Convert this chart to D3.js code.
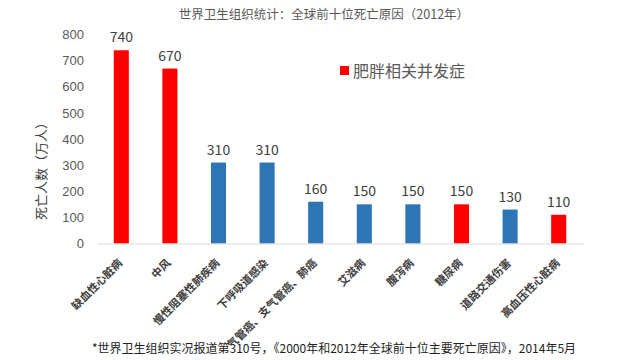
<!DOCTYPE html>
<html><head><meta charset="utf-8">
<script src="https://cdn.jsdelivr.net/npm/d3@7"></script>
<style>
body{margin:0;background:#fff;}
svg{display:block;font-family:"Noto Sans CJK SC","Noto Sans",sans-serif;}
</style></head>
<body><svg id="c" width="640" height="360"></svg>
<script>
const categories = ["缺血性心脏病","中风","慢性阻塞性肺疾病","下呼吸道感染","气管癌、支气管癌、肺癌","艾滋病","腹泻病","糖尿病","道路交通伤害","高血压性心脏病"];
const deaths = [740,670,310,310,160,150,150,150,130,110];
const obesityRelated = [true,true,false,false,false,false,false,true,false,true];
const yTicks = [0,100,200,300,400,500,600,700,800];
const titleText = "世界卫生组织统计：全球前十位死亡原因（2012年）";
const yTitle = "死亡人数（万人）";
const legendText = "肥胖相关并发症";
const footnote = "*世界卫生组织实况报道第310号，《2000年和2012年全球前十位主要死亡原因》，2014年5月";

const svg = d3.select("#c");
const x = d3.scaleBand().domain(categories).range([97,583]).paddingInner(0.69).paddingOuter(0.345);
const y = d3.scaleLinear().domain([0,800]).range([243.5,34.6]);
const RED = "#ff0000", BLUE = "#2e75b6";

svg.append("text").attr("x",324).attr("y",19).attr("text-anchor","middle")
  .attr("font-size",12.5).attr("fill","#595959").text(titleText);

// y axis labels
const yAxis = d3.axisLeft(y).tickValues(yTicks).tickSize(0).tickPadding(0).tickFormat(d3.format("d"));
const ya = svg.append("g").attr("transform","translate(84,0)").call(yAxis);
ya.select(".domain").remove();
ya.selectAll("text").attr("font-size",13).attr("fill","#595959").attr("font-family",null);

svg.append("text").attr("transform","translate(46,168) rotate(-90)").attr("text-anchor","middle")
  .attr("font-size",13).attr("fill","#404040").text(yTitle);

// bars
svg.selectAll("rect.bar").data(categories).enter().append("rect").attr("class","bar")
  .attr("x",d=>x(d)).attr("width",x.bandwidth())
  .attr("y",(d,i)=>y(deaths[i])).attr("height",(d,i)=>y(0)-y(deaths[i]))
  .attr("fill",(d,i)=>obesityRelated[i]?RED:BLUE);

// baseline
const xAxis = d3.axisBottom(x).tickSize(0).tickFormat("");
const xa = svg.append("g").attr("transform",`translate(0,${y(0)})`).call(xAxis);
xa.select(".domain").attr("stroke","#d9d9d9").attr("stroke-width",1);

// value labels
svg.selectAll("text.val").data(categories).enter().append("text").attr("class","val")
  .attr("x",d=>x(d)+x.bandwidth()/2).attr("y",(d,i)=>y(deaths[i])-8)
  .attr("text-anchor","middle").attr("font-size",14).attr("fill","#404040")
  .text((d,i)=>deaths[i]);

// category labels
svg.selectAll("text.cat").data(categories).enter().append("text").attr("class","cat")
  .attr("transform",d=>`translate(${x(d)+x.bandwidth()/2-1},261) rotate(-45)`)
  .attr("text-anchor","end").attr("dy","0.35em")
  .attr("font-size",11).attr("font-weight",600).attr("fill","#404040").text(d=>d);

// legend
svg.append("rect").attr("x",340).attr("y",66).attr("width",9).attr("height",9).attr("fill",RED);
svg.append("text").attr("x",353).attr("y",76.5).attr("font-size",16).attr("fill","#595959").text(legendText);

// footnote
svg.append("text").attr("x",334).attr("y",353).attr("text-anchor","middle")
  .attr("font-size",12).attr("fill","#222").text(footnote);
</script></body></html>
